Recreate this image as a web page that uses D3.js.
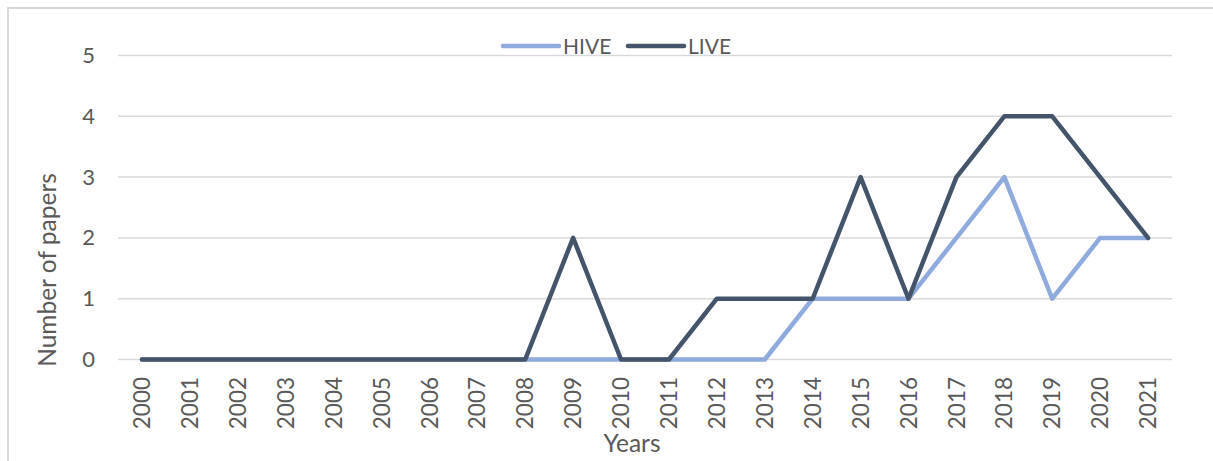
<!DOCTYPE html>
<html>
<head>
<meta charset="utf-8">
<script src="https://cdn.jsdelivr.net/npm/d3@7/dist/d3.min.js"></script>
<style>
  html, body { margin: 0; padding: 0; background: #fff; }
  svg { display: block; }
  text { font-family: Lato, "Open Sans", sans-serif; fill: #595959; }
</style>
</head>
<body>
<svg id="chart" width="1213" height="461"></svg>
<script>
const years = ["2000","2001","2002","2003","2004","2005","2006","2007","2008","2009","2010",
               "2011","2012","2013","2014","2015","2016","2017","2018","2019","2020","2021"];
const hive = [0,0,0,0,0,0,0,0,0,0,0,0,0,0,1,1,1,2,3,1,2,2];
const live = [0,0,0,0,0,0,0,0,0,2,0,0,1,1,1,3,1,3,4,4,3,2];
const yTicks = [0,1,2,3,4,5];
const seriesNames = ["HIVE","LIVE"];
const seriesColors = ["#8faadc","#44546a"];

const svg = d3.select("#chart");

// chart border
svg.append("rect")
  .attr("x", 8).attr("y", 8)
  .attr("width", 1220).attr("height", 470)
  .attr("fill", "none").attr("stroke", "#d9d9d9").attr("stroke-width", 2);

const x = d3.scaleBand().domain(years).range([118, 1172]);
const y = d3.scaleLinear().domain([0, 5]).range([359.5, 55.5]);

// gridlines
svg.append("g").selectAll("line").data(yTicks).join("line")
  .attr("x1", 118).attr("x2", 1172)
  .attr("y1", d => y(d)).attr("y2", d => y(d))
  .attr("stroke", "#d9d9d9").attr("stroke-width", 1.5);

// y axis labels
const yAxis = d3.axisLeft(y).tickValues(yTicks).tickSize(0).tickPadding(0).tickFormat(d3.format("d"));
const gy = svg.append("g").attr("transform", "translate(95,0)").call(yAxis);
gy.select(".domain").remove();
gy.selectAll("text").attr("font-size", 22).attr("fill", "#595959")
  .style("font-family", "Lato, 'Open Sans', sans-serif");

// x axis labels
const xAxis = d3.axisBottom(x).tickSize(0).tickPadding(0);
const gx = svg.append("g").attr("transform", "translate(0,377)").call(xAxis);
gx.select(".domain").remove();
gx.selectAll("text")
  .attr("font-size", 22.5).attr("fill", "#595959")
  .style("font-family", "Lato, 'Open Sans', sans-serif")
  .attr("text-anchor", "end")
  .attr("transform", "rotate(-90)")
  .attr("x", 0).attr("y", 0).attr("dy", "0.36em");

// lines
const line = d3.line()
  .x((d, i) => x(years[i]) + x.bandwidth() / 2)
  .y(d => y(d));

[hive, live].forEach((s, k) => {
  svg.append("path")
    .datum(s)
    .attr("d", line)
    .attr("fill", "none")
    .attr("stroke", seriesColors[k])
    .attr("stroke-width", 4.5)
    .attr("stroke-linejoin", "round")
    .attr("stroke-linecap", "round");
});

// legend
const legendPos = [503, 628];
seriesNames.forEach((n, k) => {
  const g = svg.append("g").attr("transform", `translate(${legendPos[k]},46)`);
  g.append("line").attr("x1", 0).attr("x2", 56).attr("y1", 0).attr("y2", 0)
    .attr("stroke", seriesColors[k]).attr("stroke-width", 4.5).attr("stroke-linecap", "round");
  g.append("text").attr("x", 60).attr("y", 7.5).attr("font-size", 21).text(n);
});

// axis titles
svg.append("text").attr("x", 632).attr("y", 452).attr("text-anchor", "middle")
  .attr("font-size", 24.5).text("Years");
svg.append("text").attr("transform", "translate(56,270) rotate(-90)")
  .attr("text-anchor", "middle").attr("font-size", 24.5).text("Number of papers");
</script>
</body>
</html>
